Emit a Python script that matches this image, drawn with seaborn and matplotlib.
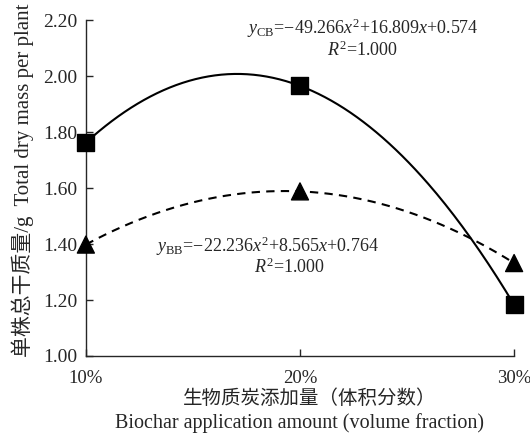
import numpy as np
import pandas as pd
import matplotlib
matplotlib.use("Agg")
import matplotlib.pyplot as plt
import seaborn as sns

# biochar amount (volume fraction) and total dry mass per plant (g)
x_vals = [0.10, 0.20, 0.30]
x_labels = ["10%", "20%", "30%"]
cb_vals = [1.762, 1.965, 1.183]
bb_vals = [1.398, 1.588, 1.332]
y_ticks = [1.00, 1.20, 1.40, 1.60, 1.80, 2.00, 2.20]

sns.set_style("ticks")
plt.rcParams["font.family"] = ["Liberation Serif", "Noto Sans CJK SC"]
plt.rcParams["mathtext.fontset"] = "custom"
plt.rcParams["mathtext.rm"] = "Liberation Serif"
plt.rcParams["mathtext.it"] = "Liberation Serif:italic"
plt.rcParams["axes.unicode_minus"] = False

pts = pd.DataFrame({"x": x_vals * 2, "y": cb_vals + bb_vals,
                    "s": ["CB"] * 3 + ["BB"] * 3})

# quadratic fit curves
xs = np.linspace(x_vals[0], x_vals[-1], 200)
curves = []
for name, ys in [("CB", cb_vals), ("BB", bb_vals)]:
    c = np.polyfit(x_vals, ys, 2)
    curves.append(pd.DataFrame({"x": xs, "y": np.polyval(c, xs), "s": name}))
curves = pd.concat(curves)

fig = plt.figure(figsize=(5.30, 4.36), dpi=100)
ax = fig.add_axes([0.162, 0.1835, 0.808, 0.7705])

sns.lineplot(data=curves[curves.s == "CB"], x="x", y="y", color="black",
             linewidth=1.5, ax=ax, legend=False)
sns.lineplot(data=curves[curves.s == "BB"], x="x", y="y", color="black",
             linewidth=1.5, ax=ax, legend=False, dashes=False)
ax.lines[-1].set_dashes((4, 3))
sns.scatterplot(data=pts, x="x", y="y", style="s", markers={"CB": "s", "BB": "^"},
                color="black", s=150, edgecolor="black", ax=ax, legend=False,
                zorder=5, clip_on=False)

ax.set_xlim(0.1, 0.3)
ax.set_ylim(1.0, 2.2)
ax.set_xticks(x_vals)
ax.set_xticklabels(x_labels)
ax.set_yticks(y_ticks)
ax.set_yticklabels([f"{v:.2f}" for v in y_ticks])
ax.tick_params(direction="in", length=5, width=1, labelsize=14, pad=6)
ax.tick_params(axis="x", pad=10, labelsize=13.5)
for sp in ["left", "bottom"]:
    ax.spines[sp].set_linewidth(1)
sns.despine(ax=ax)
ax.set_xlabel("")
ax.set_ylabel("")

fig.text(0.042, 0.587, "单株总干质量/g  Total dry mass per plant", rotation=90,
         fontsize=15, ha="center", va="center")
fig.text(0.585, 0.085, "生物质炭添加量（体积分数）", fontsize=14, ha="center", va="center")
fig.text(0.566, 0.030, "Biochar application amount (volume fraction)", fontsize=14.5,
         ha="center", va="center")

eq_fs = 13
ax.text(0.229, 2.071, "$y_{\\rm CB}$=−49.266$x^2$+16.809$x$+0.574\n$R^2$=1.000",
        fontsize=eq_fs, ha="center", va="baseline", multialignment="center",
        linespacing=1.05)
ax.text(0.185, 1.371, r"$y_{\rm BB}$=−22.236$x^2$+8.565$x$+0.764", fontsize=eq_fs,
        ha="center", va="baseline")
ax.text(0.1953, 1.296, r"$R^2$=1.000", fontsize=eq_fs, ha="center", va="baseline")

fig.savefig("out.png", dpi=100)
